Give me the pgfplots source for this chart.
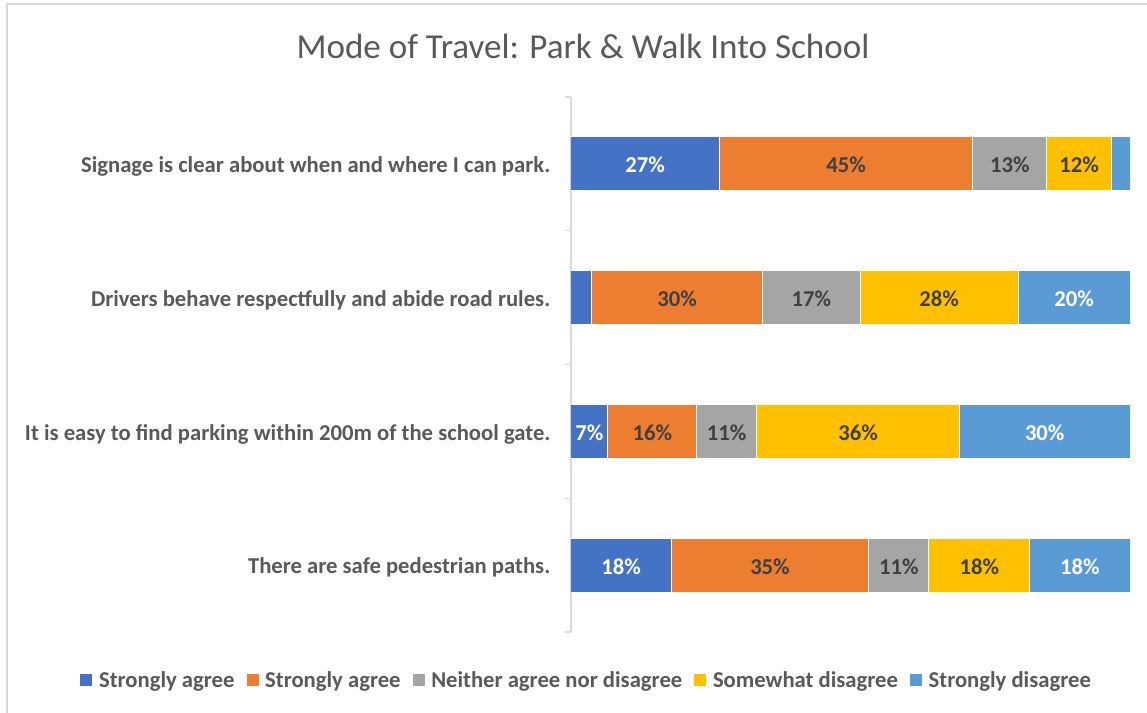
\documentclass[border=0pt]{standalone}
\usepackage{fontspec}
\setmainfont{Carlito}
\usepackage{pgfplots}
\pgfplotsset{compat=1.18}

\definecolor{cBlue}{HTML}{4472C4}
\definecolor{cOrange}{HTML}{ED7D31}
\definecolor{cGray}{HTML}{A5A5A5}
\definecolor{cYellow}{HTML}{FFC000}
\definecolor{cLight}{HTML}{5B9BD5}
\definecolor{txtgray}{HTML}{595959}
\definecolor{lblgray}{HTML}{404040}
\definecolor{rule}{HTML}{D9D9D9}

\begin{document}
\begin{tikzpicture}[x=0.75pt,y=0.75pt]
\useasboundingbox (0,0) rectangle (1147,713);
% chart area frame (only top and left edge visible)
\draw[rule,line width=0.9pt] (7,0) -- (7,709) -- (1147,709);
\node[font=\fontsize{26.3}{30}\selectfont,text=txtgray] at (583,667) {Mode of Travel: Park \& Walk Into School};
\coordinate (orig) at (571,81);

\begin{axis}[
    at={(orig)}, anchor=south west,
    scale only axis,
    width=419.25pt, height=401.25pt,
    xbar stacked,
    bar width=40.5pt,
    xmin=0, xmax=100,
    ymin=-0.5, ymax=3.5,
    axis x line=none,
    axis y line*=left,
    y axis line style={rule,line width=0.9pt},
    ytick={0,1,2,3},
    yticklabels={There are safe pedestrian paths.,
                 It is easy to find parking within 200m of the school gate.,
                 Drivers behave respectfully and abide road rules.,
                 Signage is clear about when and where I can park.},
    yticklabel style={font=\fontsize{17}{20}\selectfont\bfseries,text=txtgray,xshift=-12pt,yshift=-2pt},
    major tick length=0pt,
    extra y ticks={-0.5,0.5,1.5,2.5,3.5},
    extra y tick labels={},
    extra y tick style={major tick length=4.5pt,tick align=outside,tick style={rule,line width=0.9pt}},
    every axis plot/.append style={draw=white,line width=0.75pt},
    point meta=explicit symbolic,
    nodes near coords,
    every node near coord/.append style={anchor=center,yshift=-1pt,
        font=\fontsize{17}{20}\selectfont\bfseries},
    legend columns=-1,
    legend style={at={(0.0286,-0.0916)},anchor=center,draw=none,
        font=\fontsize{17}{20}\selectfont\bfseries,text=txtgray,
        /tikz/every even column/.append style={column sep=7pt},
        /tikz/every odd column/.append style={column sep=3pt}},
    legend image code/.code={\fill[#1,draw=none] (0pt,-3.6pt) rectangle (9pt,5.4pt);},
]
\addplot[fill=cBlue,every node near coord/.append style={text=white}] coordinates
    {(17.9,0) [18\%] (6.6,1) [7\%] (3.7,2) [] (26.5,3) [27\%]};
\addplot[fill=cOrange,every node near coord/.append style={text=lblgray}] coordinates
    {(35.4,0) [35\%] (15.9,1) [16\%] (30.6,2) [30\%] (45.4,3) [45\%]};
\addplot[fill=cGray,every node near coord/.append style={text=lblgray}] coordinates
    {(10.7,0) [11\%] (10.7,1) [11\%] (17.4,2) [17\%] (13.2,3) [13\%]};
\addplot[fill=cYellow,every node near coord/.append style={text=lblgray}] coordinates
    {(18.1,0) [18\%] (36.3,1) [36\%] (28.3,2) [28\%] (11.6,3) [12\%]};
\addplot[fill=cLight,every node near coord/.append style={text=white}] coordinates
    {(17.9,0) [18\%] (30.5,1) [30\%] (20.0,2) [20\%] (3.3,3) []};
\legend{Strongly agree,Strongly agree,Neither agree nor disagree,Somewhat disagree,Strongly disagree}
\end{axis}
\end{tikzpicture}
\end{document}
